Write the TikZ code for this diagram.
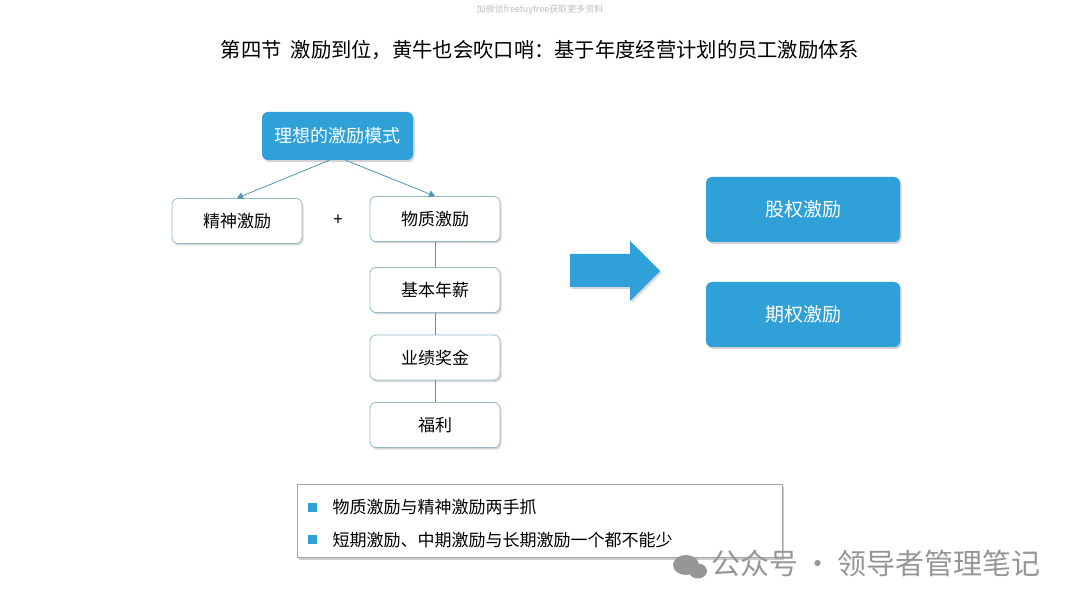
\documentclass[tikz,border=0pt]{standalone}
\usepackage{fontspec}
\newfontfamily\cjk{Noto Sans CJK SC}
\usetikzlibrary{shadows,arrows.meta}
\definecolor{mblue}{RGB}{47,160,216}
\definecolor{lineblue}{RGB}{80,150,180}
\definecolor{boxedge}{RGB}{150,185,200}
\definecolor{wmgray}{RGB}{150,150,150}
\tikzset{
  fs/.style={font=\cjk\fontsize{#1}{#1}\selectfont},
  bluebox/.style={draw=none, fill=mblue, rounded corners=6pt, text=white,
    drop shadow={shadow xshift=1.5pt, shadow yshift=-2pt, opacity=0.35}},
  whitebox/.style={draw=boxedge, line width=0.8pt, fill=white, rounded corners=6pt,
    minimum width=130pt, minimum height=45pt, fs=17,
    drop shadow={shadow xshift=1.5pt, shadow yshift=-2pt, opacity=0.3}},
  link/.style={draw=lineblue, line width=0.8pt},
}
\begin{document}
\begin{tikzpicture}[x=1pt,y=-1pt]
\useasboundingbox (0,0) rectangle (1080,604);
\fill[white] (0,0) rectangle (1080,604);
% faint top note
\node[fs=9, text=black!25] (note) at (540,10) {加微信freefuyfree获取更多资料};
% title
\node[fs=20.3] (title) at (540,50) {第四节\ \ 激励到位，黄牛也会吹口哨：基于年度经营计划的员工激励体系};
% tree
\node[bluebox, minimum width=151pt, minimum height=48pt, fs=18] (ideal) at (337.5,136) {理想的激励模式};
\node[whitebox] (spirit) at (237,221) {精神激励};
\node[fs=17] (plus) at (338,220) {+};
\node[whitebox] (material) at (435,219) {物质激励};
\node[whitebox] (salary) at (435,290) {基本年薪};
\node[whitebox] (bonus) at (435,357.5) {业绩奖金};
\node[whitebox] (welfare) at (435,425) {福利};
\draw[link, -{Triangle[length=6pt,width=7pt]}] (ideal.south) ++(-8,0) coordinate (a1) -- (spirit.north);
\draw[link, -{Triangle[length=6pt,width=7pt]}] (ideal.south) ++(8,0) coordinate (a2) -- (material.north);
\draw[link] (material.south) -- (salary.north);
\draw[link] (salary.south) -- (bonus.north);
\draw[link] (bonus.south) -- (welfare.north);
% big arrow
\fill[mblue, drop shadow={shadow xshift=1.5pt, shadow yshift=-2pt, opacity=0.3}]
  (570,254) -- (630,254) -- (630,241) -- (660,271) -- (630,301) -- (630,287) -- (570,287) -- cycle;
% right boxes
\node[bluebox, minimum width=194pt, minimum height=65pt, fs=19] (equity) at (803,209.5) {股权激励};
\node[bluebox, minimum width=194pt, minimum height=65pt, fs=19] (option) at (803,314.5) {期权激励};
% bottom box
\node[draw=black!35, line width=0.6pt, fill=white, minimum width=485pt, minimum height=73pt,
  drop shadow={shadow xshift=2pt, shadow yshift=-3pt, opacity=0.4}] (summary) at (539.5,520.5) {};
\fill[mblue] (308,503) rectangle (317,512);
\fill[mblue] (308,535) rectangle (317,544);
\node[fs=17, anchor=west] (b1) at (329,507.5) {物质激励与精神激励两手抓};
\node[fs=17, anchor=west] (b2) at (329,540) {短期激励、中期激励与长期激励一个都不能少};
% watermark
\fill[wmgray] (686,565) ellipse (13pt and 10pt);
\fill[wmgray] (698,571) ellipse (9pt and 7.5pt);
\node[fs=29, text=wmgray, anchor=west] (wm) at (708,563) {公众号\,·\,领导者管理笔记};
\end{tikzpicture}
\end{document}
